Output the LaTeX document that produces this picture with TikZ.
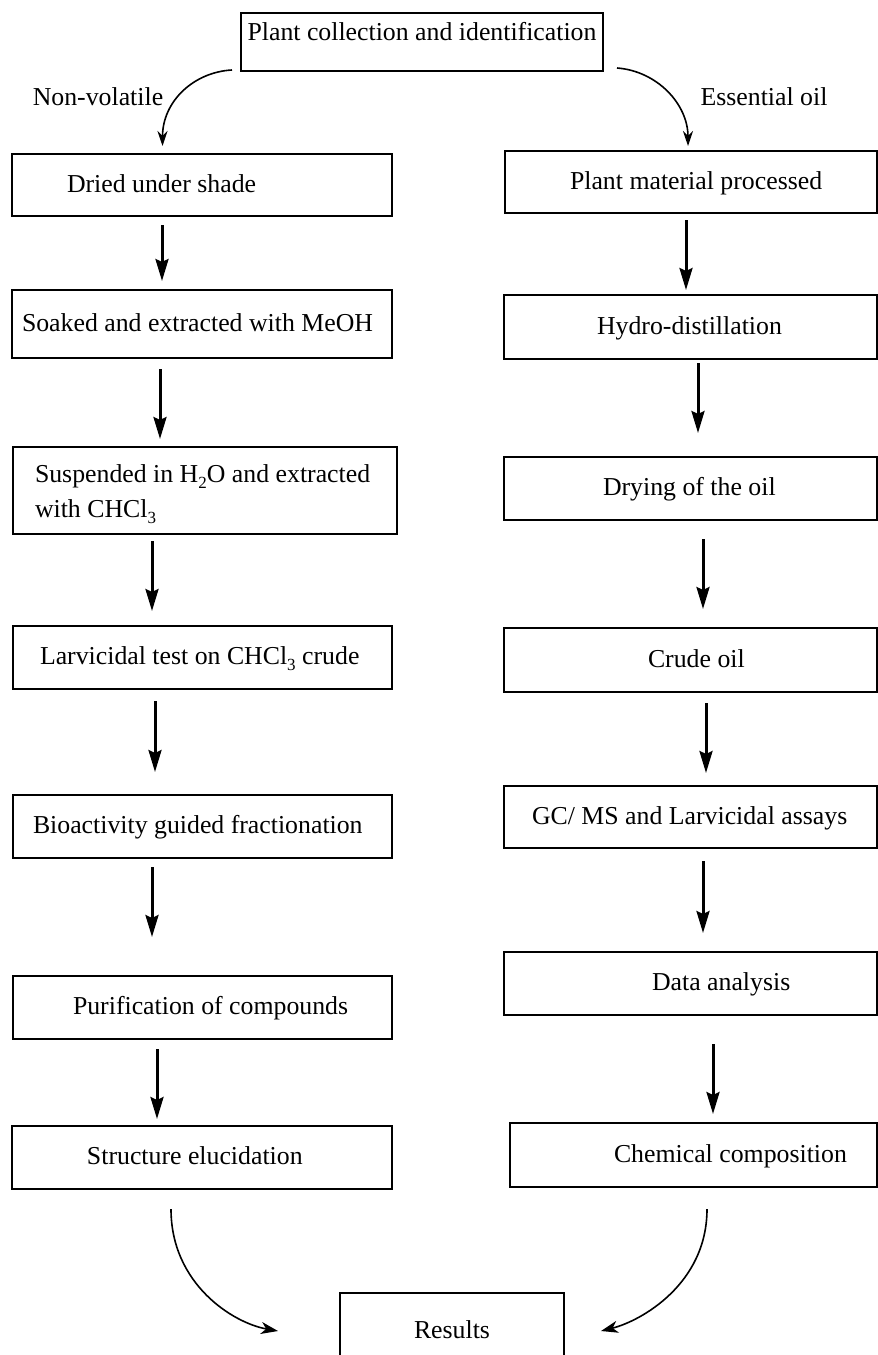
\documentclass[tikz,border=0pt]{standalone}
\usepackage{fontspec}
\setmainfont{Liberation Serif}
\usetikzlibrary{arrows.meta,calc}
\newcommand{\mysub}[1]{\raisebox{-0.22em}{\fontsize{17}{17}\selectfont #1}}
\newcommand{\bxt}[3]{\makebox[#1pt][l]{\hspace*{#2pt}\strut #3}}
\begin{document}
\begin{tikzpicture}[x=1pt,y=-1pt,
  every node/.style={font=\fontsize{25.8}{35}\selectfont},
  box/.style={draw, line width=2pt, inner sep=0pt},
  lbl/.style={inner sep=0pt},
  arr/.style={line width=3pt, -{Stealth[length=22pt,width=13pt,inset=3pt]}},
  carr/.style={line width=1.6pt, -{Stealth[length=15pt,width=10pt,inset=5pt]}},
  carrb/.style={line width=1.6pt, -{Stealth[length=17pt,width=12pt,inset=5pt]}}]
\useasboundingbox (0,0) rectangle (878,1355);
% top
\node[box, minimum height=58pt] (T) at (422,42) {\parbox[c][58pt][t]{362pt}{\centering\rule{0pt}{27pt}Plant collection and identification}};
\node[lbl] (nv) at (98,97) {Non-volatile};
\node[lbl] (eo) at (764,97) {Essential oil};
% left column
\node[box, minimum height=62pt] (L1) at (202,185) {\bxt{380}{55}{Dried under shade}};
\node[box, minimum height=68pt] (L2) at (202,324) {\bxt{380}{10}{Soaked and extracted with MeOH}};
\node[box, minimum height=87pt] (L3) at (205,490.5) {\parbox{384pt}{\leftskip=22pt\relax\strut Suspended in H\mysub{2}O and extracted\\ with CHCl\mysub{3}}};
\node[box, minimum height=63pt] (L4) at (202.5,657.5) {\bxt{379}{27}{Larvicidal test on CHCl\mysub{3} crude}};
\node[box, minimum height=63pt] (L5) at (202.5,826.5) {\bxt{379}{20}{Bioactivity guided fractionation}};
\node[box, minimum height=63pt] (L6) at (202.5,1007.5) {\bxt{379}{60}{Purification of compounds}};
\node[box, minimum height=63pt] (L7) at (202,1157.5) {\bxt{380}{75}{Structure elucidation}};
% right column
\node[box, minimum height=62pt] (R1) at (691,182) {\bxt{372}{65}{Plant material processed}};
\node[box, minimum height=64pt] (R2) at (690.5,327) {\bxt{373}{93}{Hydro-distillation}};
\node[box, minimum height=63pt] (R3) at (690.5,488.5) {\bxt{373}{99}{Drying of the oil}};
\node[box, minimum height=64pt] (R4) at (690.5,660) {\bxt{373}{144}{Crude oil}};
\node[box, minimum height=62pt] (R5) at (690.5,817) {\bxt{373}{28}{GC/ MS and Larvicidal assays}};
\node[box, minimum height=63pt] (R6) at (690.5,983.5) {\bxt{373}{148}{Data analysis}};
\node[box, minimum height=64pt] (R7) at (693.5,1155) {\bxt{367}{104}{Chemical composition}};
% results
\node[box, minimum width=224pt, minimum height=74pt] (res) at (452,1330) {Results};
% top curves
\draw[carr] ($(T.south west)+(-8,-2)$) .. controls +(-38,2) and +(0,-45) .. ($(L1.north)+(-39.5,-7)$);
\draw[carr] ($(T.south east)+(13,-4)$) .. controls +(40,3) and +(0,-42) .. ($(R1.north)+(-3,-4)$);
% left arrows
\draw[arr] ($(L1.south)+(-40,8)$) -- ($(L2.north)+(-40,-8)$);
\draw[arr] ($(L2.south)+(-42,10)$) -- ($(L3.north)+(-45,-7)$);
\draw[arr] ($(L3.south)+(-53,6)$) -- ($(L4.north)+(-50.5,-14)$);
\draw[arr] ($(L4.south)+(-47.5,11)$) -- ($(L5.north)+(-47.5,-22)$);
\draw[arr] ($(L5.south)+(-50.5,8)$) -- ($(L6.north)+(-50.5,-38)$);
\draw[arr] ($(L6.south)+(-45.5,9)$) -- ($(L7.north)+(-45,-6)$);
% right arrows
\draw[arr] ($(R1.south)+(-5,6)$) -- ($(R2.north)+(-4.5,-4)$);
\draw[arr] ($(R2.south)+(7.5,3)$) -- ($(R3.north)+(7.5,-23)$);
\draw[arr] ($(R3.south)+(12.5,18)$) -- ($(R4.north)+(12.5,-18)$);
\draw[arr] ($(R4.south)+(15.5,10)$) -- ($(R5.north)+(15.5,-12)$);
\draw[arr] ($(R5.south)+(12.5,12)$) -- ($(R6.north)+(12.5,-18)$);
\draw[arr] ($(R6.south)+(22.5,28)$) -- ($(R7.north)+(19.5,-8)$);
% bottom curves
\draw[carrb] ($(L7.south)+(-31,19)$) .. controls +(0,75) and +(-45,-8) .. ($(res.west)+(-61,1)$);
\draw[carrb] ($(R7.south)+(13.5,21)$) .. controls +(0,75) and +(40,-10) .. ($(res.east)+(36,1)$);
\end{tikzpicture}
\end{document}
